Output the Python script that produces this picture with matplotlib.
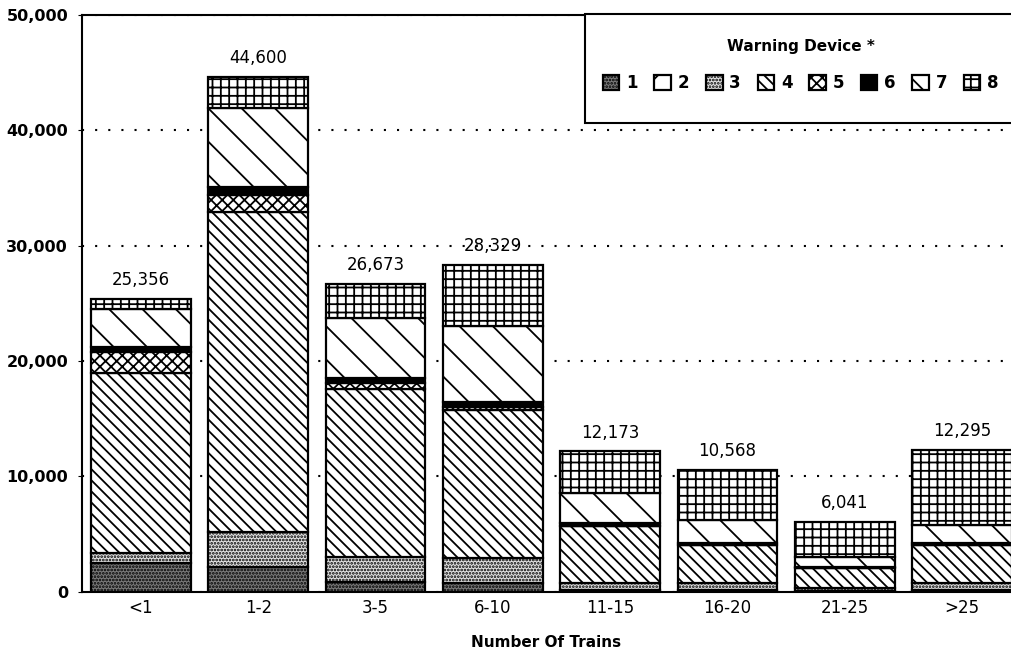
import matplotlib.pyplot as plt
from matplotlib.patches import Rectangle
from matplotlib.ticker import FuncFormatter

categories = ["<1", "1-2", "3-5", "6-10", "11-15", "16-20", "21-25", ">25"]

# accidents by warning device type
device_1 = [2480, 2190, 890, 750, 150, 150, 80, 150]
device_2 = [0, 0, 0, 0, 0, 0, 0, 0]
device_3 = [870, 3030, 2160, 2170, 600, 600, 240, 660]
device_4 = [15640, 27710, 14500, 12840, 4960, 3320, 1730, 3260]
device_5 = [1810, 1440, 520, 280, 0, 0, 0, 0]
device_6 = [390, 720, 430, 440, 240, 200, 150, 200]
device_7 = [3290, 6790, 5200, 6550, 2650, 1960, 860, 1530]
device_8 = [876, 2720, 2973, 5299, 3573, 4338, 2981, 6495]

series = [device_1, device_2, device_3, device_4,
          device_5, device_6, device_7, device_8]
labels = ["1", "2", "3", "4", "5", "6", "7", "8"]
faces = ["#7a7a7a", "white", "#e2e2e2", "white", "white", "black", "white", "white"]
hatches = [".....", "/", ".....", "\\\\\\", "xxx", None, "\\", "++"]

plt.rcParams["font.family"] = "DejaVu Sans"
plt.rcParams["hatch.color"] = "black"
plt.rcParams["hatch.linewidth"] = 1.3

fig = plt.figure(figsize=(10.11, 6.68), dpi=100)
ax = fig.add_axes([0.0811, 0.1138, 0.9189, 0.8644])

x = list(range(len(categories)))
bottom = [0] * len(categories)
handles = []
for vals, fc, h, lab in zip(series, faces, hatches, labels):
    bars = ax.bar(x, vals, width=0.85, bottom=bottom, color=fc, hatch=h,
                  edgecolor="black", linewidth=1.6, zorder=3, label=lab)
    handles.append(bars)
    bottom = [b + v for b, v in zip(bottom, vals)]

for xi, tot in zip(x, bottom):
    ax.annotate(f"{tot:,}", (xi, tot), xytext=(0, 7), textcoords="offset points",
                ha="center", va="bottom", fontsize=12)

ax.set_xlim(-0.503, 7.417)
ax.set_ylim(0, 50000)
ax.set_yticks(range(0, 50001, 10000))
ax.yaxis.set_major_formatter(FuncFormatter(lambda v, p: f"{int(v):,}"))
ax.set_xticks(x)
ax.set_xticklabels(categories, fontsize=12)
for t in ax.get_yticklabels():
    t.set_fontweight("bold")
    t.set_fontsize(11.5)
ax.tick_params(axis="y", length=3, pad=7)
ax.tick_params(axis="x", length=0, pad=5)

ax.yaxis.grid(True, color="black", linestyle=(0, (1, 5.3)), linewidth=1.5, zorder=0)
ax.set_axisbelow(True)
ax.spines["right"].set_visible(False)
for s in ["left", "top", "bottom"]:
    ax.spines[s].set_linewidth(1.5)

ax.set_xlabel("Number Of Trains", fontsize=11, fontweight="bold", labelpad=13)

fig.add_artist(Rectangle((0.5786, 0.8159), 0.43, 0.1632, transform=fig.transFigure,
                         facecolor="white", edgecolor="black", linewidth=1.5))
leg = fig.legend(handles=handles, labels=labels, ncol=8, loc="center",
                 bbox_to_anchor=(0.792, 0.902), frameon=False,
                 prop={"size": 12, "weight": "bold"},
                 title="Warning Device *",
                 title_fontproperties={"size": 11, "weight": "bold"},
                 handlelength=1.0, handleheight=1.0, handletextpad=0.4,
                 columnspacing=1.0, labelspacing=1.2)

fig.savefig("out.png", dpi=100)
